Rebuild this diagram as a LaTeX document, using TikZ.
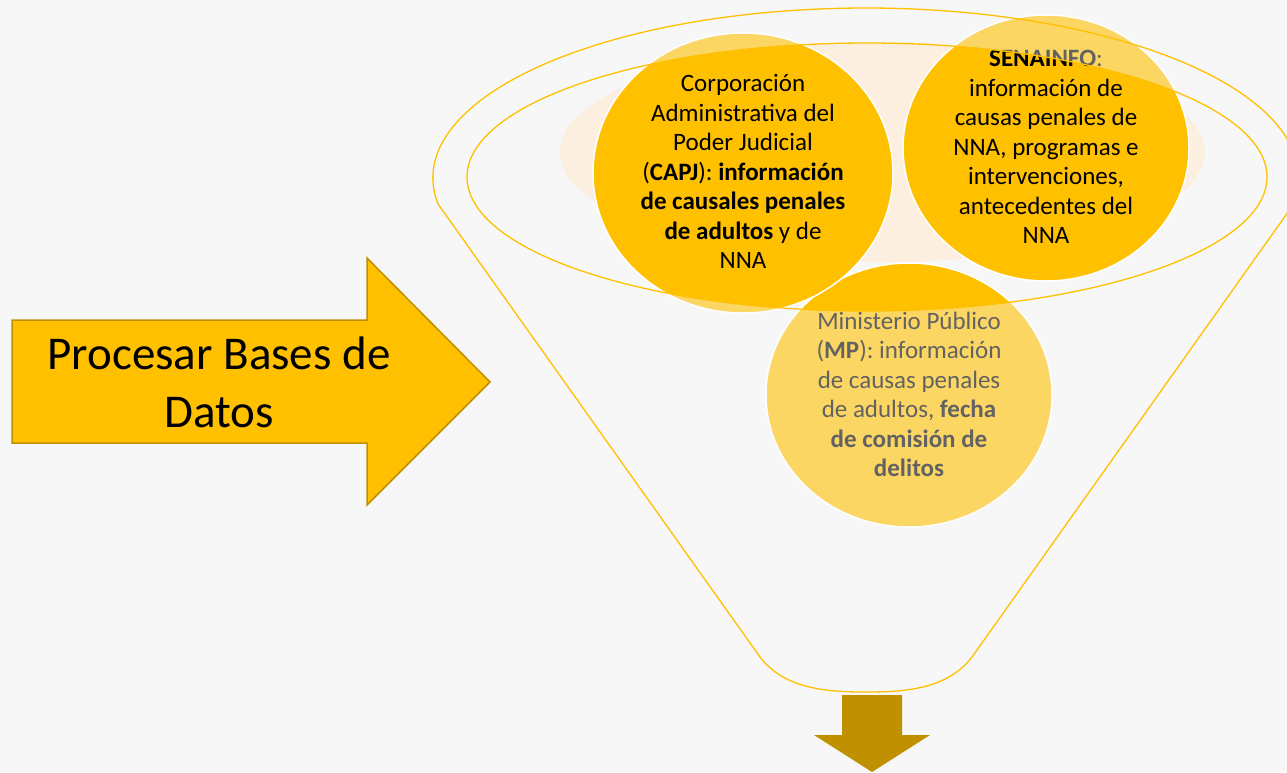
\documentclass[tikz,border=0pt]{standalone}
\usepackage{fontspec}
\setmainfont{Carlito}
\definecolor{bgc}{HTML}{F7F7F7}
\definecolor{gold}{HTML}{FFC000}
\definecolor{dgold}{HTML}{BF9000}
\definecolor{cream}{HTML}{FCEFDF}
\begin{document}
\begin{tikzpicture}[x=1pt,y=-1pt,
  funnelline/.style={draw=gold, line width=1.3pt},
  blob/.style={fill=gold, draw=white, line width=1.5pt},
  txt/.style={align=center, font=\fontsize{25}{29.5}\selectfont, inner sep=0pt, text=black},
  fadeover/.style={fill=bgc, fill opacity=0.4, even odd rule}]
\fill[bgc] (0,0) rectangle (1287,772);
\useasboundingbox (0,0) rectangle (1287,772);

% cream background ellipse
\fill[cream] (882.5,152) ellipse [x radius=322.5, y radius=110];

% MP circle
\path[blob] (909,395) ellipse [x radius=143, y radius=132];
\node[txt] (mp) at (909,394.5) {Ministerio Público\\(\textbf{MP}): información\\de causas penales\\de adultos, \textbf{fecha}\\\textbf{de comisión de}\\\textbf{delitos}};
\begin{scope}
\clip (909,395) ellipse [x radius=143, y radius=132];
\path[fadeover] (0,0) rectangle (1287,772) (867,177) ellipse [x radius=400, y radius=134];
\end{scope}

% CAPJ circle
\path[blob] (743,173) ellipse [x radius=150, y radius=140];
\node[txt] (capj) at (743,171.5) {Corporación\\Administrativa del\\Poder Judicial\\(\textbf{CAPJ}): \textbf{información}\\\textbf{de causales penales}\\\textbf{de adultos} y de\\NNA};
\begin{scope}
\clip (743,173) ellipse [x radius=150, y radius=140];
\path[fadeover] (0,0) rectangle (1287,772) (867,177) ellipse [x radius=400, y radius=134];
\end{scope}

% SENAINFO circle
\path[blob] (1046,148) ellipse [x radius=143, y radius=133];
\node[txt] (sen) at (1046,147) {\textbf{SENAINFO}:\\información de\\causas penales de\\NNA, programas e\\intervenciones,\\antecedentes del\\NNA};
\begin{scope}
\clip (1046,148) ellipse [x radius=143, y radius=133];
\path[fadeover] (0,0) rectangle (1287,772) (867,177) ellipse [x radius=400, y radius=134];
\end{scope}

% funnel outline
\draw[funnelline] (438,204) arc[start angle=171.2, end angle=368.8, x radius=433, y radius=170]
  -- (972,657) .. controls (947,690) and (902,692) .. (866,692)
  .. controls (830,692) and (785,690) .. (760,657) -- cycle;
\draw[funnelline] (867,177) ellipse [x radius=400, y radius=134];

% left arrow
\draw[fill=gold, draw=dgold, line width=1.5pt, line join=miter]
  (12,320) -- (367,320) -- (367,258) -- (490,382) -- (367,505) -- (367,443) -- (12,443) -- cycle;
\node[align=center, font=\fontsize{47}{58}\selectfont, inner sep=0pt] (proc) at (219,382) {Procesar Bases de\\Datos};

% down arrow
\fill[dgold] (842,695) -- (902,695) -- (902,735) -- (930,735) -- (872,772) -- (814,735) -- (842,735) -- cycle;
\end{tikzpicture}
\end{document}
